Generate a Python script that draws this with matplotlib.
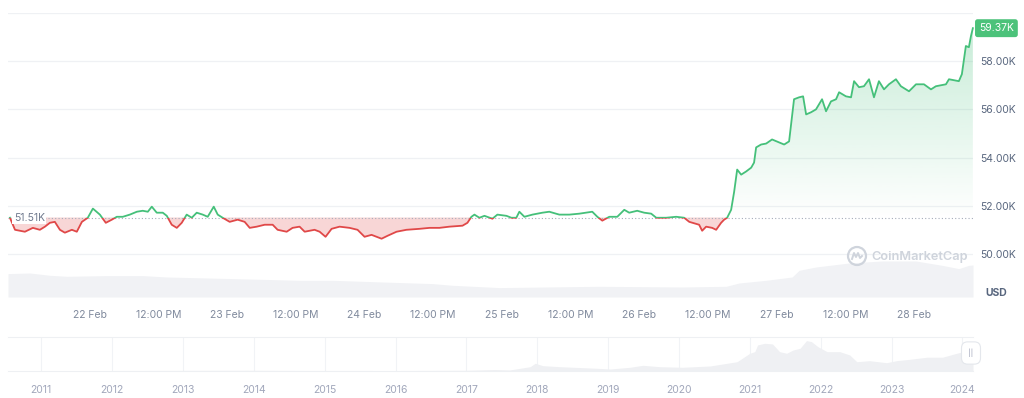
import numpy as np
import matplotlib
matplotlib.use("Agg")
import matplotlib.pyplot as plt
from matplotlib.patches import Rectangle, Ellipse
from matplotlib.lines import Line2D

plt.rcParams["font.family"] = ["Inter", "DejaVu Sans"]

# price line: days since 21 Feb 00:00, price in thousand USD
price_days = [
    0.418, 0.455, 0.527, 0.585, 0.636, 0.673, 0.709, 0.745, 0.782, 0.818,
    0.869, 0.905, 0.942, 0.985, 1.022, 1.073, 1.116, 1.160, 1.196, 1.240,
    1.291, 1.342, 1.385, 1.422, 1.451, 1.487, 1.531, 1.560, 1.596, 1.633,
    1.669, 1.705, 1.742, 1.778, 1.822, 1.858, 1.902, 1.931, 1.967, 2.018,
    2.076, 2.127, 2.164, 2.215, 2.273, 2.331, 2.367, 2.433, 2.476, 2.527,
    2.564, 2.636, 2.673, 2.716, 2.760, 2.818, 2.891, 2.949, 3.000, 3.051,
    3.087, 3.124, 3.167, 3.233, 3.305, 3.400, 3.473, 3.545, 3.618, 3.713,
    3.749, 3.778, 3.800, 3.836, 3.873, 3.931, 3.967, 4.033, 4.069, 4.105,
    4.127, 4.164, 4.222, 4.295, 4.345, 4.418, 4.491, 4.564, 4.658, 4.695,
    4.731, 4.782, 4.840, 4.891, 4.927, 4.985, 5.036, 5.087, 5.124, 5.196,
    5.269, 5.327, 5.364, 5.436, 5.458, 5.487, 5.531, 5.560, 5.596, 5.618,
    5.640, 5.669, 5.691, 5.713, 5.742, 5.778, 5.815, 5.836, 5.851, 5.887,
    5.924, 5.967, 6.018, 6.055, 6.091, 6.127, 6.164, 6.193, 6.215, 6.251,
    6.287, 6.331, 6.360, 6.396, 6.433, 6.455, 6.505, 6.542, 6.564, 6.600,
    6.636, 6.673, 6.709, 6.745, 6.782, 6.818, 6.869, 6.905, 6.964, 7.015,
    7.073, 7.124, 7.160, 7.233, 7.255, 7.327, 7.349, 7.378, 7.400, 7.415,
    7.429,
]
price_k = [
    51.50, 51.00, 50.92, 51.08, 51.00, 51.13, 51.29, 51.33, 51.00, 50.88,
    51.00, 50.92, 51.33, 51.50, 51.88, 51.63, 51.29, 51.42, 51.54, 51.54,
    51.63, 51.75, 51.79, 51.75, 51.96, 51.71, 51.71, 51.58, 51.21, 51.08,
    51.29, 51.63, 51.50, 51.71, 51.63, 51.54, 51.96, 51.63, 51.50, 51.33,
    51.42, 51.33, 51.08, 51.13, 51.21, 51.21, 51.00, 50.92, 51.08, 51.13,
    50.92, 51.00, 50.92, 50.71, 51.04, 51.13, 51.08, 51.00, 50.71, 50.79,
    50.71, 50.63, 50.75, 50.92, 51.00, 51.04, 51.08, 51.08, 51.13, 51.17,
    51.29, 51.54, 51.63, 51.50, 51.58, 51.46, 51.63, 51.58, 51.50, 51.50,
    51.75, 51.54, 51.63, 51.71, 51.75, 51.63, 51.63, 51.67, 51.75, 51.54,
    51.38, 51.54, 51.54, 51.83, 51.71, 51.79, 51.71, 51.67, 51.50, 51.50,
    51.54, 51.50, 51.33, 51.21, 50.96, 51.13, 51.08, 51.00, 51.29, 51.42,
    51.50, 51.83, 52.58, 53.50, 53.29, 53.42, 53.58, 53.79, 54.42, 54.54,
    54.58, 54.75, 54.63, 54.54, 54.67, 56.42, 56.50, 56.54, 55.79, 55.88,
    56.00, 56.42, 55.92, 56.33, 56.42, 56.71, 56.54, 56.50, 57.17, 56.92,
    56.96, 57.25, 56.50, 57.17, 56.83, 57.04, 57.25, 56.96, 56.75, 57.04,
    57.04, 56.83, 56.96, 57.04, 57.25, 57.17, 57.46, 58.63, 58.58, 59.04,
    59.37,
]
open_price = 51.51
last_price = 59.37

# volume strip under the price line (relative units)
vol_days = [
    0.404, 0.564, 0.709, 0.833, 1.124, 1.385, 1.560, 2.040, 2.527, 2.767,
    3.131, 3.495, 3.640, 3.982, 4.709, 5.313, 5.633, 5.727, 5.924, 6.113,
    6.164, 6.287, 6.527, 6.767, 7.015, 7.204, 7.327, 7.400, 7.430,
]
volume = [
    23.4, 24.0, 21.7, 20.7, 21.4, 21.4, 20.0, 18.4, 16.7, 16.7,
    15.0, 13.4, 11.7, 9.4, 10.7, 10.0, 10.7, 14.0, 16.7, 20.0,
    26.7, 30.0, 34.0, 36.0, 36.0, 31.7, 28.4, 31.7, 32.0,
]

# all-time navigator (price in thousand USD)
hist_years = [
    2010.53, 2013.9, 2014.5, 2016.0, 2017.0, 2017.4, 2017.61, 2017.90,
    2017.97, 2018.08, 2018.32, 2018.84, 2019.03, 2019.31, 2019.49, 2019.73,
    2020.05, 2020.44, 2020.82, 2021.00, 2021.07, 2021.11, 2021.21, 2021.32,
    2021.42, 2021.52, 2021.61, 2021.71, 2021.80, 2021.87, 2021.96, 2022.09,
    2022.27, 2022.41, 2022.51, 2022.69, 2022.93, 2023.07, 2023.26, 2023.50,
    2023.72, 2023.92, 2024.15,
]
hist_price_k = [
    0.0, 1.0, 0.6, 0.4, 1.0, 2.5, 1.6, 8.9,
    16.5, 11.2, 8.9, 5.4, 3.8, 7.6, 12.0, 8.9,
    7.6, 10.5, 20.0, 38.8, 42.4, 57.3, 61.0, 59.5,
    42.4, 38.8, 46.0, 50.0, 67.0, 64.7, 53.5, 42.4,
    42.4, 35.0, 20.0, 22.3, 17.8, 22.3, 25.4, 30.0,
    30.0, 38.8, 47.7,
]

day_ticks = [1, 1.5, 2, 2.5, 3, 3.5, 4, 4.5, 5, 5.5, 6, 6.5, 7]
day_labels = ["22 Feb", "12:00 PM", "23 Feb", "12:00 PM", "24 Feb", "12:00 PM",
              "25 Feb", "12:00 PM", "26 Feb", "12:00 PM", "27 Feb", "12:00 PM",
              "28 Feb"]
price_ticks = [50, 52, 54, 56, 58, 60]
price_labels = ["50.00K", "52.00K", "54.00K", "56.00K", "58.00K", ""]
year_ticks = list(range(2011, 2025))

GREEN = "#45c07a"
RED = "#e04848"
GRID = "#eff1f4"

W, H = 1024, 398
fig = plt.figure(figsize=(W / 100, H / 100), dpi=100)
rect = [8 / W, 1 - 297 / H, 965 / W, 284 / H]
xlim = (0.404, 7.43)
ylim = (48.21, 60.0)

# volume behind everything
axv = fig.add_axes(rect, zorder=0)
axv.fill_between(vol_days, volume, 0, color="#f1f2f5", lw=0)
axv.set_xlim(*xlim)
axv.set_ylim(0, 284)
axv.axis("off")

ax = fig.add_axes(rect, zorder=1)
ax.patch.set_alpha(0)
ax.set_xlim(*xlim)
ax.set_ylim(*ylim)

px = np.array(price_days)
pk = np.array(price_k)

# green gradient above open price
poly = ax.fill_between(px, np.maximum(pk, open_price), open_price, color="none", lw=0)
rgba = np.zeros((256, 1, 4))
rgba[..., :3] = matplotlib.colors.to_rgb(GREEN)
rgba[..., 3] = np.linspace(0.0, 0.32, 256)[:, None]
im = ax.imshow(rgba, origin="lower", aspect="auto",
               extent=[xlim[0], xlim[1], open_price, ylim[1]], zorder=1)
im.set_clip_path(poly.get_paths()[0], transform=ax.transData)

# red fill below open price
ax.fill_between(px, pk, open_price, where=pk < open_price, interpolate=True,
                color=RED, alpha=0.22, lw=0, zorder=1)

up_line, = ax.plot(px, pk, color=GREEN, lw=1.3, zorder=3)
dn_line, = ax.plot(px, pk, color=RED, lw=1.3, zorder=3)
up_line.set_clip_path(Rectangle((xlim[0], open_price), 10, 20, transform=ax.transData))
dn_line.set_clip_path(Rectangle((xlim[0], 40), 10, open_price - 40, transform=ax.transData))

ax.axhline(open_price, color="#a6adbb", ls=(0, (1, 2)), lw=0.8, zorder=2)

ax.set_yticks(price_ticks)
ax.set_yticklabels(price_labels)
ax.yaxis.tick_right()
ax.set_xticks(day_ticks)
ax.set_xticklabels(day_labels)
ax.grid(axis="y", color=GRID, lw=0.9)
ax.set_axisbelow(True)
ax.tick_params(axis="y", length=0, pad=5, labelsize=7.5, labelcolor="#58667e")
ax.tick_params(axis="x", length=0, pad=9, labelsize=7.5, labelcolor="#808a9d")
for s in ax.spines.values():
    s.set_visible(False)

ax.text(0.006, open_price, "51.51K", transform=ax.get_yaxis_transform(),
        ha="left", va="center", fontsize=7.5, color="#707a8e", zorder=5,
        bbox=dict(boxstyle="square,pad=0.15", fc="white", ec="none"))
ax.text(1.0062, last_price, "59.37K", transform=ax.get_yaxis_transform(),
        ha="left", va="center", fontsize=7.5, color="white", clip_on=False,
        bbox=dict(boxstyle="round,pad=0.38,rounding_size=0.25", fc="#4cc27a", ec="none"))

fig.text(996 / W, 1 - 293 / H, "USD", ha="center", va="center",
         fontsize=7.5, fontweight="bold", color="#58667e")

# watermark
wm = "#cfd4dc"
fig.text(871 / W, 1 - 257 / H, "CoinMarketCap", ha="left", va="center",
         fontsize=9.2, fontweight="semibold", color=wm, zorder=3)
cx, cy = 857, 256
fig.add_artist(Ellipse((cx / W, 1 - cy / H), 18 / W, 18 / H, transform=fig.transFigure,
                       fill=False, ec=wm, lw=1.6, zorder=3))
mx = [-5, -3, -1, 1, 3, 5]
my = [-3, 3, -1, 3, -2, 0]
fig.add_artist(Line2D([(cx + a) / W for a in mx], [1 - (cy - b) / H for b in my],
                      transform=fig.transFigure, color=wm, lw=1.4, zorder=3))

# navigator
axn = fig.add_axes([8 / W, 1 - 370.7 / H, 965 / W, 33.7 / H])
axn.fill_between(hist_years, hist_price_k, 0, color="#eff0f3", lw=0)
axn.set_xlim(2010.53, 2024.15)
axn.set_ylim(0, 75)
axn.set_yticks([])
axn.set_xticks(year_ticks)
axn.set_xticklabels([str(y) for y in year_ticks])
axn.grid(axis="x", color="#f1f3f6", lw=0.8)
axn.set_axisbelow(True)
axn.tick_params(axis="x", length=0, pad=10, labelsize=7.5, labelcolor="#a1a7bb")
for side in ["left", "right"]:
    axn.spines[side].set_visible(False)
for side in ["top", "bottom"]:
    axn.spines[side].set_color("#eef0f3")
    axn.spines[side].set_linewidth(0.8)

fig.text(971 / W, 1 - 353 / H, "||", ha="center", va="center", fontsize=5.5,
         color="#a1a7bb", zorder=5,
         bbox=dict(boxstyle="round,pad=0.9,rounding_size=0.8", fc="white", ec="#e4e7ec", lw=0.8))

fig.savefig("out.png", dpi=100)
